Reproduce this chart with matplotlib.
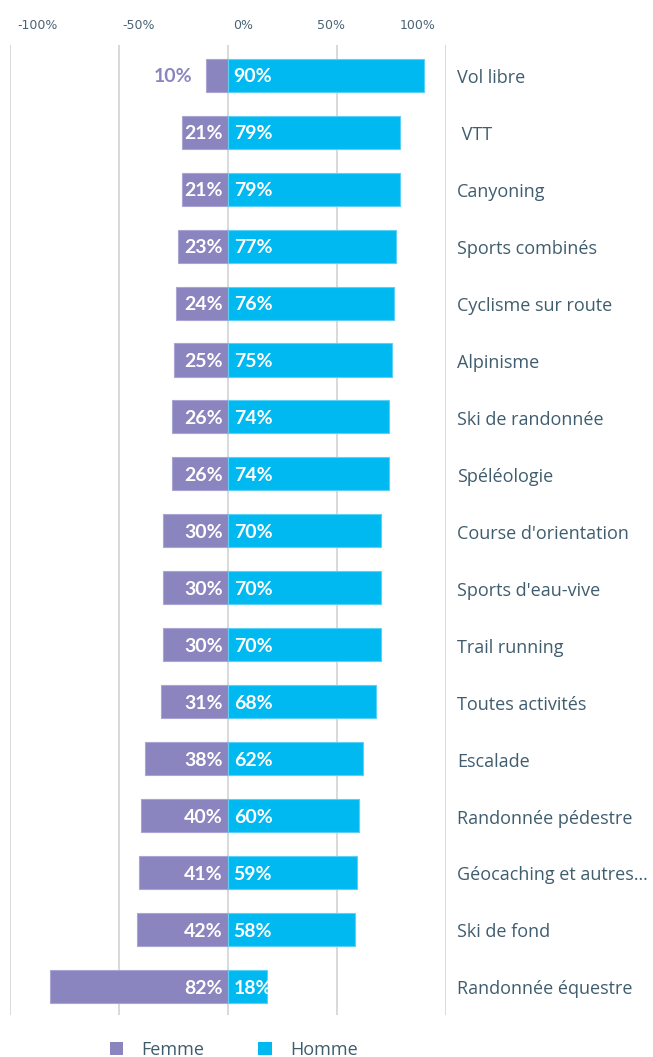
import matplotlib
matplotlib.use("Agg")
import matplotlib.pyplot as plt
from matplotlib.patches import Patch
from matplotlib.transforms import blended_transform_factory

categories = ["Vol libre", " VTT", "Canyoning", "Sports combinés", "Cyclisme sur route",
              "Alpinisme", "Ski de randonnée", "Spéléologie", "Course d'orientation",
              "Sports d'eau-vive", "Trail running", "Toutes activités", "Escalade",
              "Randonnée pédestre", "Géocaching et autres…", "Ski de fond", "Randonnée équestre"]
femme = [10, 21, 21, 23, 24, 25, 26, 26, 30, 30, 30, 31, 38, 40, 41, 42, 82]
homme = [90, 79, 79, 77, 76, 75, 74, 74, 70, 70, 70, 68, 62, 60, 59, 58, 18]
tick_values = [-100, -50, 0, 50, 100]
tick_labels = ["-100%", "-50%", "0%", "50%", "100%"]
tick_label_pos = [-87.5, -41, 7, 47, 87]

C_F = "#8a84bf"
C_H = "#00b9f1"
C_TXT = "#3f5d6e"
FONT = "Open Sans"
BFONT = "Lato"

fig = plt.figure(figsize=(6.53, 10.57), dpi=100)
ax = fig.add_axes([0.016, 0.0397, 0.667, 0.9177])

n = len(categories)
ys = list(range(n))
ax.barh(ys, [-f for f in femme], height=0.58, color=C_F, edgecolor="#a9a4d3", linewidth=0.8, zorder=3)
ax.barh(ys, homme, height=0.58, color=C_H, edgecolor="#5dd0f5", linewidth=0.8, zorder=3)

ax.set_xlim(-100, 100)
ax.set_ylim(n - 0.5, -0.53)
for v in tick_values:
    ax.axvline(v, color="#d3d3d3", linewidth=1.2, zorder=1)
for s in ax.spines.values():
    s.set_visible(False)
ax.set_xticks([])
ax.set_yticks([])

tr = blended_transform_factory(ax.transData, fig.transFigure)
for p, lab in zip(tick_label_pos, tick_labels):
    ax.text(p, 0.976, lab, transform=tr, ha="center", va="center", fontsize=9,
            color="#4a6475", family="Liberation Sans Narrow")

for y, f, h, cat in zip(ys, femme, homme, categories):
    if f < 15:
        ax.text(-f - 6.5, y + 0.03, f"{f}%", ha="right", va="center", color=C_F,
                fontsize=14, fontweight="bold", family=BFONT, zorder=4)
    else:
        ax.text(-2.5, y + 0.03, f"{f}%", ha="right", va="center", color="white",
                fontsize=14, fontweight="bold", family=BFONT, zorder=4)
    ax.text(2.5, y + 0.03, f"{h}%", ha="left", va="center", color="white",
            fontsize=14, fontweight="bold", family=BFONT, zorder=4)
    ax.text(105, y + 0.05, cat, ha="left", va="center", color=C_TXT, fontsize=13,
            family=FONT, clip_on=False)

handles = [Patch(facecolor=C_F, edgecolor="none", label="Femme"),
           Patch(facecolor=C_H, edgecolor="none", label="Homme")]
fig.legend(handles=handles, loc="center", bbox_to_anchor=(0.358, 0.0065), ncol=2,
           frameon=False, handlelength=0.75, handleheight=0.75, columnspacing=3.0,
           handletextpad=1.0, prop={"family": FONT, "size": 13}, labelcolor=C_TXT)

fig.savefig("out.png", dpi=100)
